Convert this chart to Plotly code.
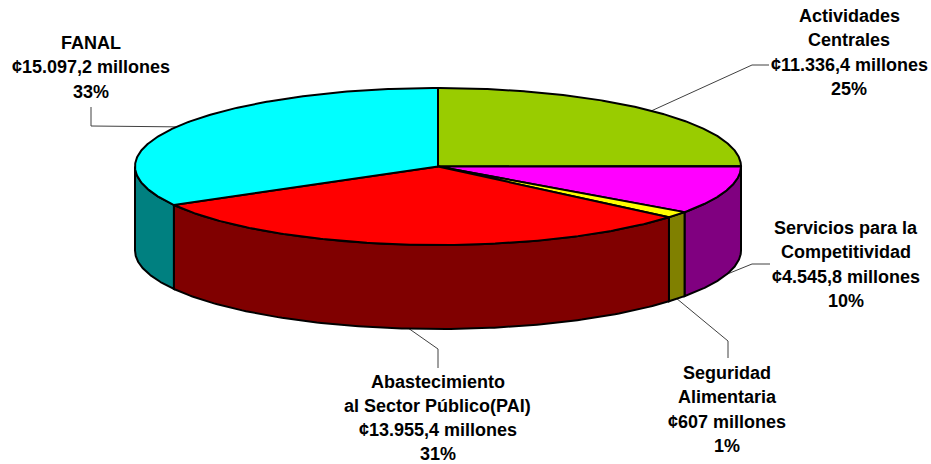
import numpy as np
import plotly.graph_objects as go

# ---- data ----
categories = ["Actividades Centrales", "Servicios para la Competitividad",
              "Seguridad Alimentaria", "Abastecimiento al Sector Público (PAI)", "FANAL"]
values = [11336.4, 4545.8, 607.0, 13955.4, 15097.2]
label_lines = [
    ["Actividades", "Centrales", "¢11.336,4 millones", "25%"],
    ["Servicios para la", "Competitividad", "¢4.545,8 millones", "10%"],
    ["Seguridad", "Alimentaria", "¢607 millones", "1%"],
    ["Abastecimiento", "al Sector Público(PAI)", "¢13.955,4 millones", "31%"],
    ["FANAL", "¢15.097,2 millones", "33%"],
]

# ---- styles and layout constants ----
top_colors = ["#99CC00", "#FF00FF", "#FFFF00", "#FF0000", "#00FFFF"]
wall_colors = ["#4D6600", "#800080", "#808000", "#800000", "#008080"]
W, H = 931, 464
CX, CY, RX, RY, DEPTH = 438, 166.5, 303, 78.5, 84
FONT = dict(family="Liberation Sans, Arial, sans-serif", size=18, color="black")
label_x = [849, 846, 727, 437.5, 91]
label_first_y = [16, 228, 373, 381.5, 43]
label_step = [24.4, 24.4, 24.4, 24.0, 24.4]
leader_rest = [
    [(752, 65), (769, 65)],
    [(752, 264), (770, 264)],
    [(728, 341), (728, 358)],
    [(438, 349), (438, 368)],
    [(91, 126), (91, 107)],
]


def rim(theta_deg, drop=0.0):
    t = np.radians(theta_deg)
    return CX + RX * np.sin(t), CY - RY * np.cos(t) + drop


fig = go.Figure()
total = sum(values)
edges = np.concatenate([[0], np.cumsum(values)]) / total * 360


def add_poly(xs, ys, color):
    fig.add_trace(go.Scatter(x=xs, y=ys, mode="lines", fill="toself", fillcolor=color,
                             line=dict(color="black", width=2), hoverinfo="skip",
                             showlegend=False))


# leader lines, from each slice's mid angle on the visible rim
for i in range(len(values)):
    mid = (edges[i] + edges[i + 1]) / 2
    drop = DEPTH if 90 < mid < 270 else 0
    x0, y0 = rim(mid, drop)
    pts = [(x0, y0)] + leader_rest[i]
    fig.add_trace(go.Scatter(x=[p[0] for p in pts], y=[p[1] for p in pts], mode="lines",
                             line=dict(color="#404040", width=1), hoverinfo="skip",
                             showlegend=False))

# visible outer walls
for i in range(len(values)):
    a, b = max(edges[i], 90), min(edges[i + 1], 270)
    if b <= a:
        continue
    th = np.linspace(a, b, 120)
    xt, yt = rim(th)
    xb, yb = rim(th[::-1], DEPTH)
    add_poly(np.r_[xt, xb, xt[0]], np.r_[yt, yb, yt[0]], wall_colors[i])

# top faces
for i in range(len(values)):
    th = np.linspace(edges[i], edges[i + 1], 240)
    xt, yt = rim(th)
    add_poly(np.r_[CX, xt, CX], np.r_[CY, yt, CY], top_colors[i])

# labels: one real text per line, for the wide leading of the original
for i, lines in enumerate(label_lines):
    for j, text in enumerate(lines):
        fig.add_annotation(x=label_x[i], y=label_first_y[i] + j * label_step[i], text=f"<b>{text}</b>",
                           showarrow=False, font=FONT, xanchor="center", yanchor="middle")

fig.update_layout(
    width=W, height=H, margin=dict(l=0, r=0, t=0, b=0),
    paper_bgcolor="white", plot_bgcolor="white", showlegend=False,
    xaxis=dict(range=[0, W], visible=False, fixedrange=True),
    yaxis=dict(range=[H, 0], visible=False, fixedrange=True),
)
fig.write_html("out.html", post_script="document.body.style.margin='0';document.documentElement.style.overflow='hidden';",
               config={"displayModeBar": False})
